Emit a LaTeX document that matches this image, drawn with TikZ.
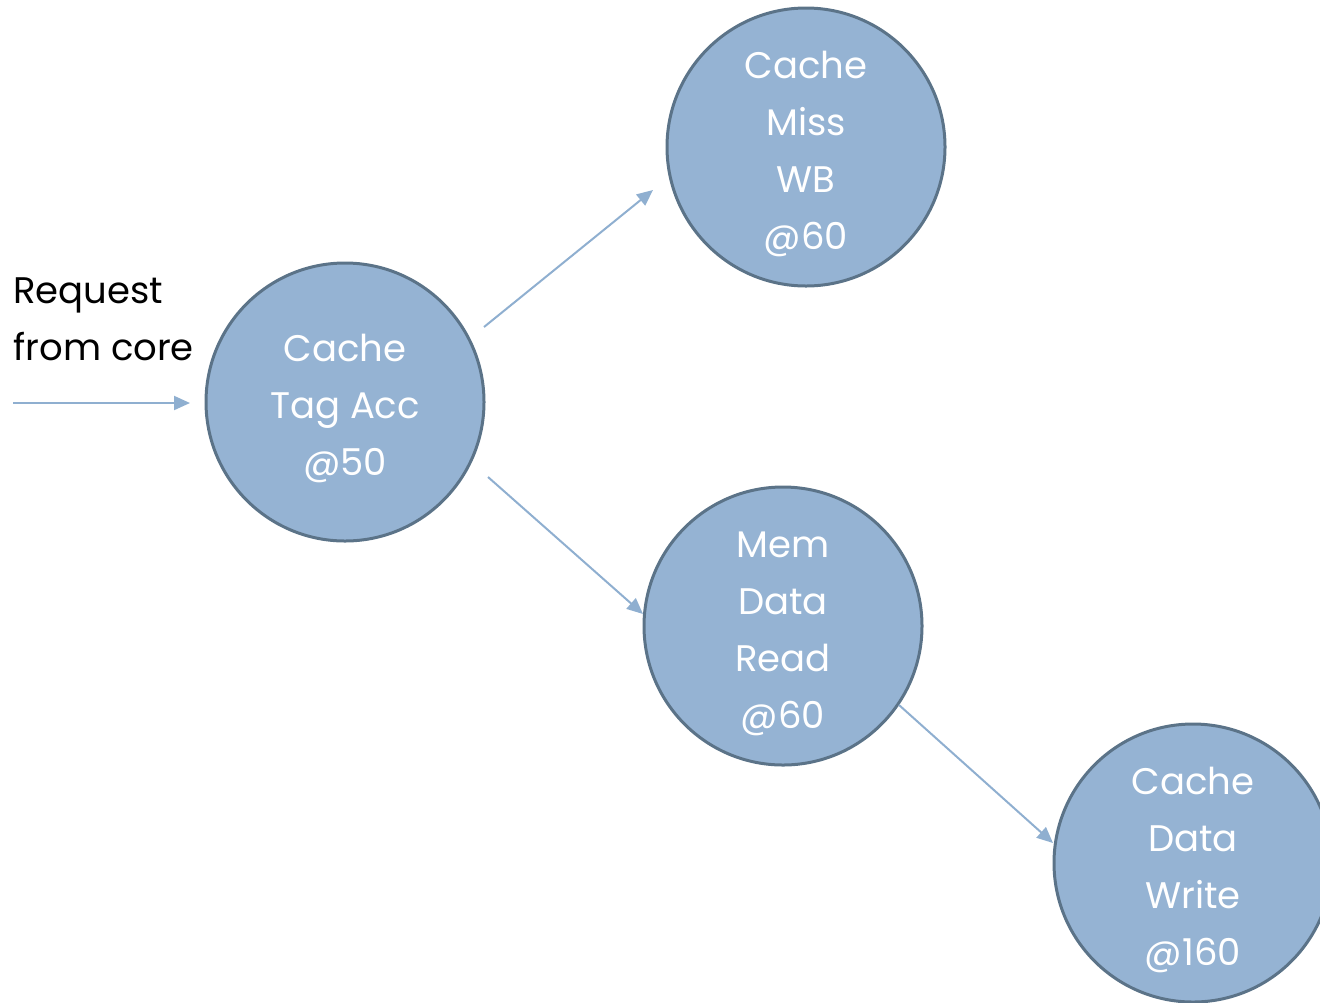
\documentclass[tikz,border=0pt]{standalone}
\usepackage{fontspec}
\setmainfont{Poppins}
\usetikzlibrary{arrows.meta}
\definecolor{nodefill}{HTML}{95B3D3}
\definecolor{nodeline}{HTML}{5B7388}
\definecolor{linkblue}{HTML}{8FAFD0}
% stacked, centred lines, with extra room on top so they sit a little low
\newcommand{\stagetext}[1]{\vbox{\vspace*{5.5pt}\hbox{\begin{tabular}{@{}c@{}}#1\end{tabular}}}}
\begin{document}
\begin{tikzpicture}[x=0.5pt,y=-0.5pt,
  stage/.style={circle, fill=nodefill, draw=nodeline, line width=1.5pt,
    minimum size=139pt, inner sep=0pt, text=white,
    font=\fontsize{18.5}{28.5}\selectfont},
  link/.style={draw=linkblue, line width=1pt,
    -{Triangle[length=8pt,width=7pt]}},
  label/.style={align=left, anchor=north west, inner sep=0pt,
    font=\fontsize{18.5}{28.5}\selectfont}]
  \useasboundingbox (0,0) rectangle (1320,1002);
  \begin{scope}
  \clip (0,0) rectangle (1320,1002);
  \node[stage] (tag) at (345,402) {\stagetext{Cache\\Tag Acc\\@50}};
  \node[stage] (miss) at (806,147) {\stagetext{Cache\\Miss\\WB\\@60}};
  \node[stage] (mem) at (783,626) {\stagetext{Mem\\Data\\Read\\@60}};
  \node[stage] (write) at (1193,863) {\stagetext{Cache\\Data\\Write\\@160}};
  \end{scope}
  \node[label] (req) at (13,277) {Request\\from core};
  \coordinate (start) at (13,403);
  \coordinate (tagin) at (190,403);
  \coordinate (tagup) at (484,327);
  \coordinate (missin) at (653,190);
  \coordinate (tagdn) at (488,477);
  \coordinate (memin) at (643,614);
  \coordinate (memout) at (899,705);
  \coordinate (writein) at (1053,843);
  \draw[link] (start) -- (tagin);
  \draw[link] (tagup) -- (missin);
  \draw[link] (tagdn) -- (memin);
  \draw[link] (memout) -- (writein);
\end{tikzpicture}
\end{document}
